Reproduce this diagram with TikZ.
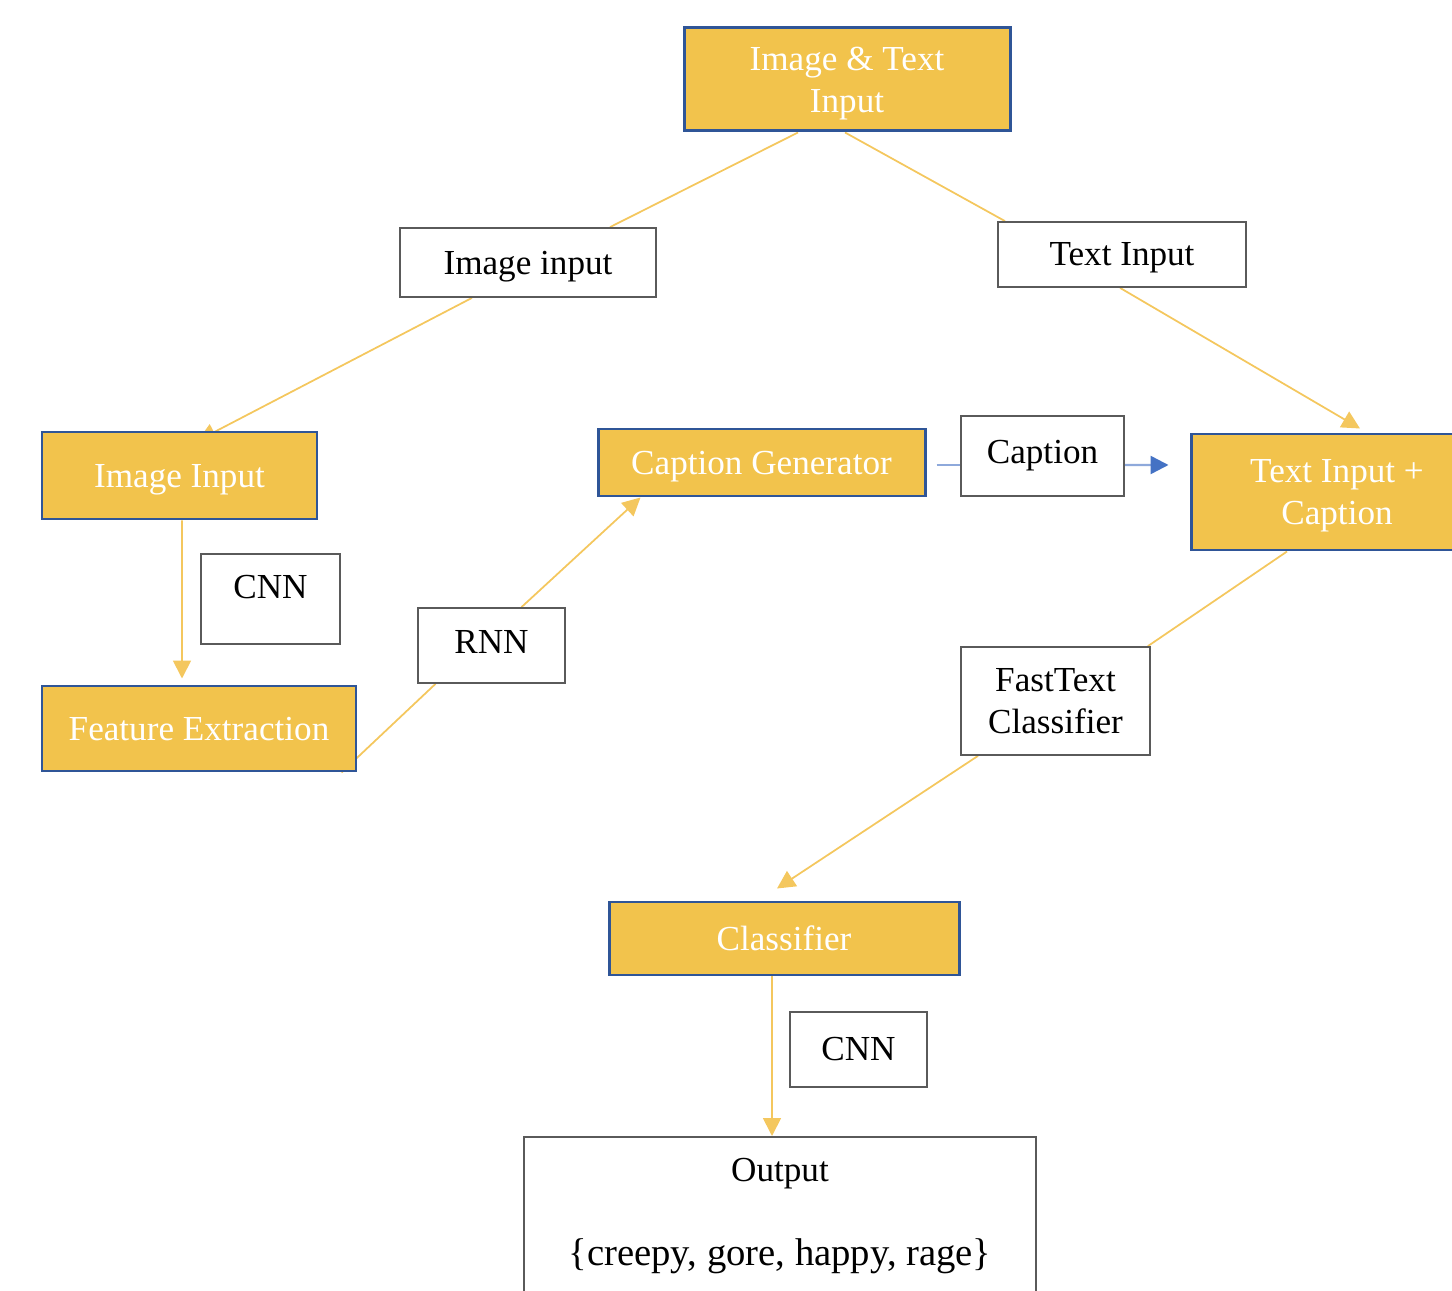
\documentclass[tikz,border=0pt]{standalone}
\usepackage{fontspec}
\setmainfont{Liberation Serif}
\usetikzlibrary{arrows.meta,backgrounds}
\definecolor{boxyellow}{HTML}{F2C34C}
\definecolor{boxblue}{HTML}{2F5597}
\definecolor{lineyellow}{HTML}{F4C75E}
\definecolor{lineblue}{HTML}{8EA9DB}
\definecolor{tipblue}{HTML}{4472C4}
\definecolor{boxgrey}{HTML}{5A5A5A}
\tikzset{
	ybox/.style={draw=boxblue, line width=0.85pt, fill=boxyellow, text=white, align=center, inner sep=0pt, text depth=0pt},
	wbox/.style={draw=boxgrey, line width=0.5pt, fill=white, align=center, inner sep=0pt},
	conn/.style={draw=lineyellow, line width=0.5pt},
	arr/.style={-{Triangle[length=0.18cm,width=0.18cm]}},
	bconn/.style={draw=lineblue, line width=0.7pt},
}

\begin{document}
\begin{tikzpicture}
		%%%%% START %%%%%
		\useasboundingbox (0,0) rectangle (14.52,-12.91);
		
		\node[ybox, minimum width=3.26cm, minimum height=1.03cm] (top) at (8.47,-0.795) {Image \& Text\\Input};
		
		\node[wbox, minimum width=2.56cm, minimum height=0.69cm, text depth=0pt] (imglbl) at (5.28,-2.625) {Image input};
		\node[wbox, minimum width=2.48cm, minimum height=0.65cm, text depth=0pt] (txtlbl) at (11.22,-2.545) {Text Input};
		
		\node[ybox, minimum width=2.75cm, minimum height=0.87cm] (imgin) at (1.795,-4.755) {Image Input};
		\node[ybox, minimum width=3.27cm, minimum height=0.67cm] (capgen) at (7.615,-4.625) {Caption Generator};
		\node[wbox, minimum width=1.63cm, minimum height=0.80cm] (caplbl) at (10.425,-4.56) {Caption};
		\node[ybox, minimum width=2.92cm, minimum height=1.16cm] (txtcap) at (13.37,-4.92) {Text Input +\\Caption};
		
		\node[wbox, minimum width=1.39cm, minimum height=0.90cm, text depth=0.25cm] (cnna) at (2.705,-5.99) {CNN};
		\node[wbox, minimum width=1.47cm, minimum height=0.75cm, text depth=0.08cm] (rnn) at (4.915,-6.455) {RNN};
		\node[ybox, minimum width=3.14cm, minimum height=0.85cm] (feat) at (1.99,-7.285) {Feature Extraction};
		
		\node[wbox, minimum width=1.89cm, minimum height=1.08cm] (fast) at (10.555,-7.01) {FastText\\Classifier};
		
		\node[ybox, minimum width=3.50cm, minimum height=0.73cm] (cls) at (7.84,-9.385) {Classifier};
		\node[wbox, minimum width=1.37cm, minimum height=0.75cm] (cnnb) at (8.585,-10.495) {CNN};
		
		\node[wbox, anchor=north, minimum width=5.12cm, inner ysep=6pt, text depth=1.2cm] (out) at (7.80,-11.36) {Output\\[12pt]{\fontsize{11}{13}\selectfont\{creepy, gore, happy, rage\}}};
		
		%%%%% CONNECTORS %%%%%
		\begin{scope}[on background layer]
		\draw[conn] ([xshift=-0.49cm]top.south) -- ([xshift=0.82cm]imglbl.north);
		\draw[conn, arr] ([xshift=-0.56cm]imglbl.south) -- ([xshift=0.185cm,yshift=-0.1cm]imgin.north);
		
		\draw[conn] ([xshift=-0.02cm]top.south) -- ([xshift=-1.17cm]txtlbl.north);
		\draw[conn, arr] ([xshift=-0.02cm]txtlbl.south) -- ([xshift=0.23cm,yshift=0.04cm]txtcap.north);
		
		\draw[conn, arr] ([xshift=0.025cm]imgin.south) -- ([xshift=-0.17cm,yshift=0.06cm]feat.north);
		\draw[conn] ([xshift=-0.16cm]feat.south east) -- ([xshift=-0.56cm]rnn.south);
		\draw[conn, arr] ([xshift=0.3cm]rnn.north) -- ([xshift=-1.21cm]capgen.south);
		
		\draw[bconn] ([xshift=0.1cm,yshift=-0.025cm]capgen.east) -- ([yshift=-0.09cm]caplbl.west);
		\draw[bconn, -{Triangle[length=0.18cm,width=0.18cm,color=tipblue]}] ([yshift=-0.09cm]caplbl.east) -- ([xshift=-0.21cm,yshift=0.27cm]txtcap.west);
		
		\draw[conn] ([xshift=-0.50cm]txtcap.south) -- ([xshift=-0.03cm]fast.north east);
		\draw[conn, arr] ([xshift=-0.775cm]fast.south) -- ([xshift=-0.07cm,yshift=0.12cm]cls.north);
		\draw[conn, arr] ([xshift=-0.12cm]cls.south) -- ([xshift=-0.08cm]out.north);
		\end{scope}
		
		%%%%% END %%%%%
\end{tikzpicture}
\end{document}
